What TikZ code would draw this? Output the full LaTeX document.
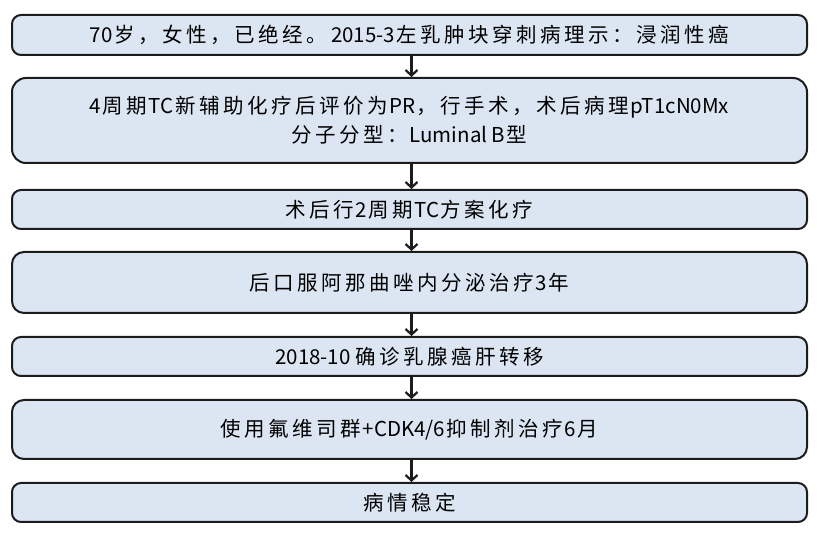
\documentclass[tikz,border=0pt]{standalone}
\usepackage{fontspec}
\usepackage{tikz}
\usetikzlibrary{arrows.meta}
\setmainfont{Noto Sans CJK SC}
\definecolor{boxfill}{RGB}{220,230,243}
\definecolor{boxline}{RGB}{28,28,28}
% wider gaps between CJK characters
\newXeTeXintercharclass\hanclass
\count255="4E00
\loop
  \XeTeXcharclass\count255=\hanclass
  \advance\count255 by 1
\ifnum\count255<"A000 \repeat
\XeTeXcharclass"3002=\hanclass
\XeTeXcharclass"FF0C=\hanclass
\XeTeXcharclass"FF1A=\hanclass
\XeTeXinterchartokenstate=1
\XeTeXinterchartoks\hanclass\hanclass={\hskip3.5pt\relax}
\XeTeXinterchartoks 0 \hanclass={\hskip1.5pt\relax}
\XeTeXinterchartoks\hanclass 0 ={\hskip1.5pt\relax}

\begin{document}
\begin{tikzpicture}[
            x=1pt, y=-1pt,
            every node/.append style={black},
            stepbox/.style={draw=boxline, fill=boxfill, line width=2pt,
                rounded corners=9pt, minimum width=795pt, inner sep=0pt,
                align=center, font=\fontsize{20.5}{29}\selectfont},
            every path/.append style={boxline, line width=2.2pt}
        ]
            \useasboundingbox (0,0) rectangle (823,537);

            \node[stepbox, minimum height=40pt] (diag) at (409.5,35)
                {70岁，女性，已绝经。 2015-3左乳肿块穿刺病理示：浸润性癌};
            \node[stepbox, minimum height=85pt, rounded corners=14pt] (neoadj) at (409.5,120.5)
                {4周期TC新辅助化疗后评价为PR，行手术，术后病理pT1cN0Mx\\分子分型：Luminal B型};
            \node[stepbox, minimum height=39pt] (chemo) at (409.5,209.5)
                {术后行2周期TC方案化疗};
            \node[stepbox, minimum height=61pt, rounded corners=12pt] (endo) at (409.5,282.5)
                {后口服阿那曲唑内分泌治疗3年};
            \node[stepbox, minimum height=39pt] (meta) at (409.5,356.5)
                {2018-10 确诊乳腺癌肝转移};
            \node[stepbox, minimum height=59pt, rounded corners=12pt] (cdk) at (409.5,429.5)
                {使用氟维司群+CDK4/6抑制剂治疗6月};
            \node[stepbox, minimum height=39pt] (stable) at (409.5,502.5)
                {病情稳定};

            \foreach \a/\b in {diag/neoadj, neoadj/chemo, chemo/endo, endo/meta, meta/cdk, cdk/stable}
                \draw[-{Straight Barb[length=5.5pt,width=12pt]}] ([xshift=2pt]\a.south) -- ([xshift=2pt]\b.north);
        \end{tikzpicture}
\end{document}
